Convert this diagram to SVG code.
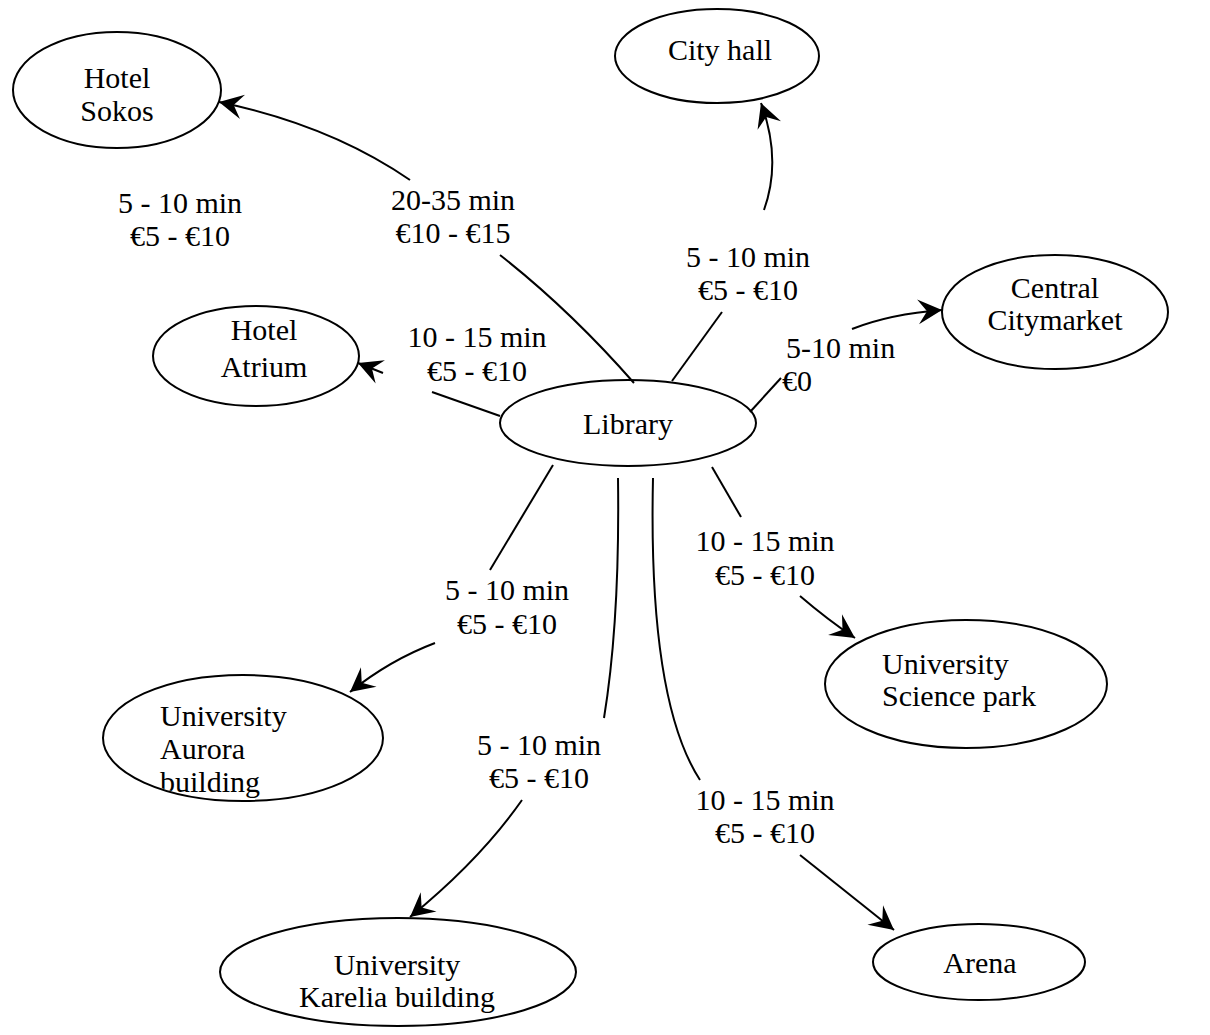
<svg xmlns="http://www.w3.org/2000/svg" width="1210" height="1035" viewBox="0 0 1210 1035">
<style>
.node ellipse{fill:#fff;stroke:#000;stroke-width:2}
text{font-family:"Liberation Serif","Times New Roman",serif;font-size:30px;fill:#000}
.c{text-anchor:middle}
.edge{fill:none;stroke:#000;stroke-width:2}
</style>
<defs>
<marker id="arr" markerUnits="userSpaceOnUse" markerWidth="26" markerHeight="26" refX="24" refY="12.5" orient="auto" overflow="visible">
<path d="M24,12.5 L0,0 L9,12.5 L0,25 Z" fill="#000"/>
</marker>
<clipPath id="auroraClip"><ellipse cx="243" cy="738" rx="139" ry="62"/></clipPath>
</defs>
<rect width="1210" height="1035" fill="#fff"/>
<g id="hotel-sokos" class="node"><ellipse cx="117" cy="90" rx="104" ry="58"/><text class="c" x="117" y="88">Hotel</text><text class="c" x="117" y="121">Sokos</text></g>
<g id="city-hall" class="node"><ellipse cx="717" cy="56" rx="102" ry="47"/><text class="c" x="720" y="60">City hall</text></g>
<g id="central-citymarket" class="node"><ellipse cx="1055" cy="312" rx="113" ry="57"/><text class="c" x="1055" y="298">Central</text><text class="c" x="1055" y="330">Citymarket</text></g>
<g id="hotel-atrium" class="node"><ellipse cx="256" cy="356" rx="103" ry="50"/><text class="c" x="264" y="340">Hotel</text><text class="c" x="264" y="377">Atrium</text></g>
<g id="library" class="node"><ellipse cx="628" cy="423" rx="128" ry="43"/><text class="c" x="628" y="434">Library</text></g>
<g id="science-park" class="node"><ellipse cx="966" cy="684" rx="141" ry="64"/><text x="882" y="674">University</text><text x="882" y="706">Science park</text></g>
<g id="aurora" class="node"><ellipse cx="243" cy="738" rx="140" ry="63"/><g clip-path="url(#auroraClip)"><text x="160" y="726">University</text><text x="160" y="759">Aurora</text><text x="160" y="792">building</text></g></g>
<g id="karelia" class="node"><ellipse cx="398" cy="972" rx="178" ry="54"/><text class="c" x="397" y="975">University</text><text class="c" x="397" y="1007">Karelia building</text></g>
<g id="arena" class="node"><ellipse cx="979" cy="962" rx="106" ry="38"/><text class="c" x="980" y="973">Arena</text></g>
<g id="connectors">
<path class="edge" d="M634,383 Q570,310 500,255"/>
<path class="edge" d="M410,180 Q330,125 219,102" marker-end="url(#arr)"/>
<path class="edge" d="M500,416 L432,392"/>
<path class="edge" d="M383,373 L358,363" marker-end="url(#arr)"/>
<path class="edge" d="M672,381 L722,312"/>
<path class="edge" d="M764,210 Q782,160 761,103" marker-end="url(#arr)"/>
<path class="edge" d="M750,412 L781,378"/>
<path class="edge" d="M852,329 Q890,314 942,310" marker-end="url(#arr)"/>
<path class="edge" d="M712,467 L741,517"/>
<path class="edge" d="M800,596 Q828,620 855,638" marker-end="url(#arr)"/>
<path class="edge" d="M553,465 L490,570"/>
<path class="edge" d="M435,643 Q390,660 350,692" marker-end="url(#arr)"/>
<path class="edge" d="M618,478 Q620,620 604,718"/>
<path class="edge" d="M522,800 Q480,860 410,917" marker-end="url(#arr)"/>
<path class="edge" d="M653,478 Q648,700 700,780"/>
<path class="edge" d="M800,855 L894,930" marker-end="url(#arr)"/>
</g>
<g id="labels">
<text class="c" x="180" y="213">5 - 10 min</text>
<text class="c" x="180" y="246">€5 - €10</text>
<text class="c" x="453" y="210">20-35 min</text>
<text class="c" x="453" y="243">€10 - €15</text>
<text class="c" x="748" y="267">5 - 10 min</text>
<text class="c" x="748" y="300">€5 - €10</text>
<text x="786" y="358">5-10 min</text>
<text x="782" y="391">€0</text>
<text class="c" x="477" y="347">10 - 15 min</text>
<text class="c" x="477" y="381">€5 - €10</text>
<text class="c" x="765" y="551">10 - 15 min</text>
<text class="c" x="765" y="585">€5 - €10</text>
<text class="c" x="507" y="600">5 - 10 min</text>
<text class="c" x="507" y="634">€5 - €10</text>
<text class="c" x="539" y="755">5 - 10 min</text>
<text class="c" x="539" y="788">€5 - €10</text>
<text class="c" x="765" y="810">10 - 15 min</text>
<text class="c" x="765" y="843">€5 - €10</text>
</g>
</svg>
